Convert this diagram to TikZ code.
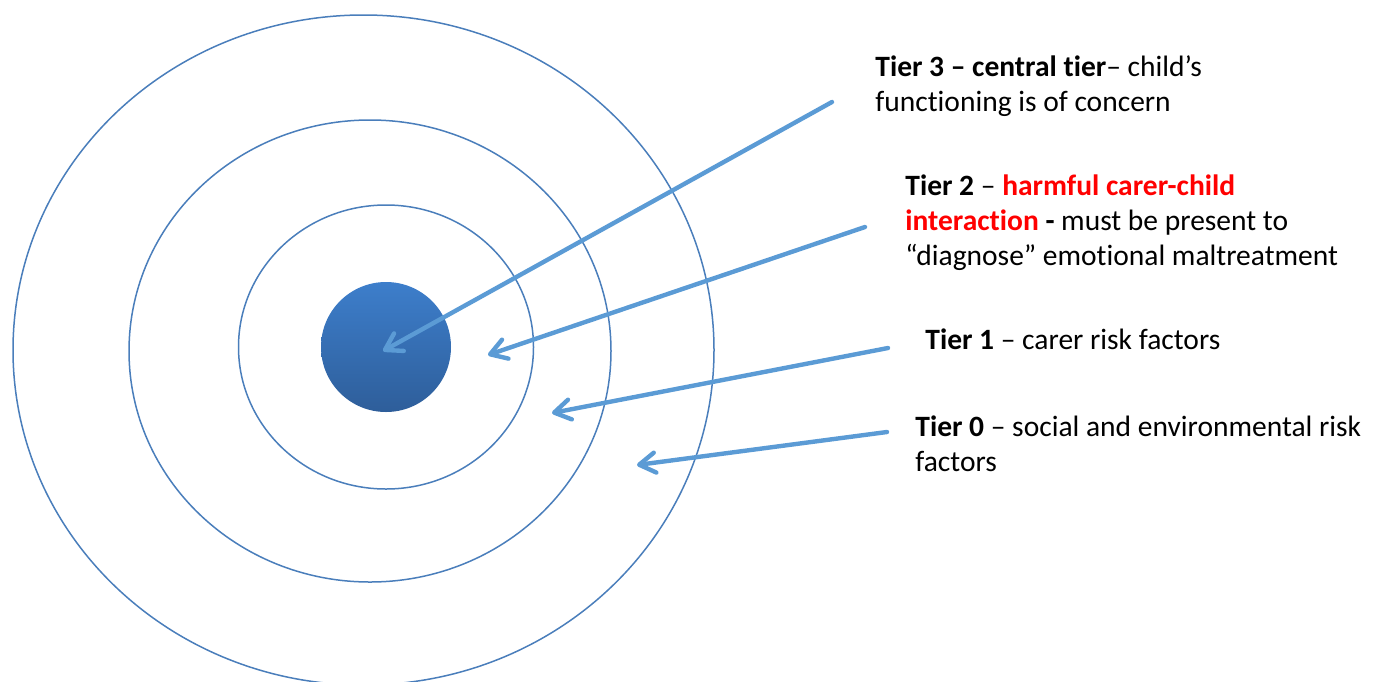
\documentclass[tikz,border=0pt]{standalone}
\usepackage{fontspec}
\setmainfont{Carlito}[Ligatures=NoCommon]
\usepackage{xcolor}
\usepackage{tikz}
\usetikzlibrary{arrows.meta,shapes.geometric}
\definecolor{ringblue}{RGB}{74,126,187}
\definecolor{arrowblue}{RGB}{91,155,213}
\definecolor{disktop}{RGB}{61,126,203}
\definecolor{diskbottom}{RGB}{46,94,154}
\definecolor{tierred}{RGB}{255,0,0}

\tikzset{
  ring/.style={ellipse, draw=ringblue, line width=0.75pt, inner sep=0pt},
  tierarrow/.style={arrowblue, line width=2.2pt, line cap=round,
    -{Straight Barb[length=8pt, width=10pt, round]}},
  tiertext/.style={anchor=base west, align=left, inner sep=0pt,
    font=\fontsize{14.75}{17.35}\selectfont}
}

\begin{document}
\begin{tikzpicture}[x=0.5pt, y=-0.5pt]
  \useasboundingbox (0,0) rectangle (1376,681);

  % Rings
  \foreach \nm/\cx/\cy/\rx/\ry in {
    outer/363.5/350/350.5/335,
    middle/370/351/241/231,
    inner/386/347/147.5/142%
  }{
    \node[ring, minimum width=\rx pt, minimum height=\ry pt] (\nm) at (\cx,\cy) {};
  }

  % Child in the centre
  \node[ellipse, minimum width=65pt, minimum height=65pt, inner sep=0pt,
    top color=disktop, bottom color=diskbottom] (child) at (386,347) {};

  % Labels (base = last line)
  \node[tiertext] (tier3) at (875,111.5)
    {\textbf{Tier 3 – central tier}– child’s\\functioning is of concern};
  \node[tiertext] (tier2) at (905,265)
    {\textbf{Tier 2} – \textcolor{tierred}{\textbf{harmful carer-child}}\\
     \textcolor{tierred}{\textbf{interaction}} \textbf{-} must be present to\\
     “diagnose” emotional maltreatment};
  \node[tiertext] (tier1) at (925,349) {\textbf{Tier 1} – carer risk factors};
  \node[tiertext] (tier0) at (915,471.5)
    {\textbf{Tier 0} – social and environmental risk\\factors};

  % Arrow ends
  \coordinate (from3) at (832,102);
  \coordinate (to3) at (383,351);
  \coordinate (from2) at (865,227);
  \coordinate (to2) at (488,355);
  \coordinate (from1) at (888,348);
  \coordinate (to1) at (552,413);
  \coordinate (from0) at (887,432);
  \coordinate (to0) at (637,465);

  \foreach \t in {3,2,1,0}
    \draw[tierarrow] (from\t) -- (to\t);
\end{tikzpicture}
\end{document}
